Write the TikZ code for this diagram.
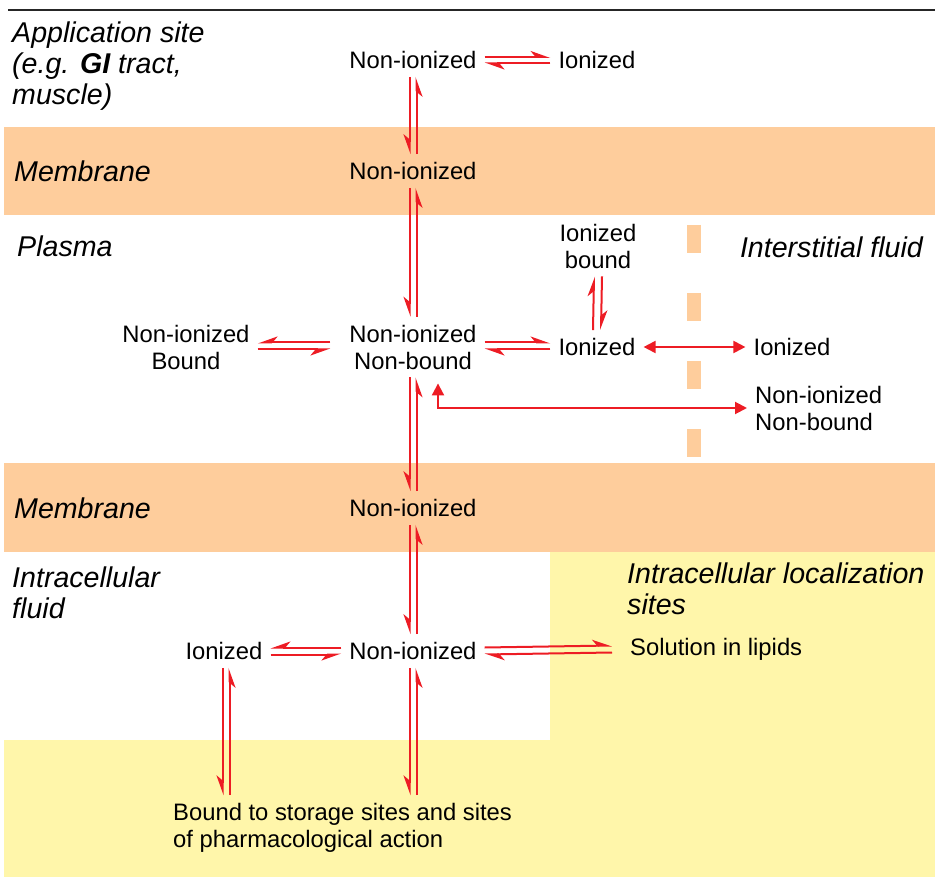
\documentclass[tikz,border=0pt]{standalone}
\usepackage{fontspec}
\setmainfont{Liberation Sans}
\usepackage{tikz}
\usetikzlibrary{calc,arrows.meta}
\usepackage{xcolor}
\definecolor{arrred}{RGB}{237,28,36}
\definecolor{membr}{RGB}{254,205,156}
\definecolor{lipid}{RGB}{255,246,170}

\begin{document}
\begin{tikzpicture}[x=1pt,y=-1pt,
		lbl/.style={font=\fontsize{23.8}{27}\selectfont, inner sep=8pt, align=center},
		region/.style={font=\fontsize{28.6}{31}\selectfont\itshape, inner sep=0pt, anchor=west, align=left},
		harpL/.style={draw=arrred, line width=2pt, -{Stealth[left,length=17pt,width=12pt,inset=5pt]}},
		harpR/.style={draw=arrred, line width=2pt, -{Stealth[right,length=17pt,width=12pt,inset=5pt]}},
		dblarr/.style={draw=arrred, line width=2pt, {Triangle[length=12pt,width=12pt]}-{Triangle[length=12pt,width=12pt]}}]
		\useasboundingbox (0,0) rectangle (935,877);

		% backgrounds
		\fill[membr] (4,127) rectangle (935,215);% first membrane
		\fill[membr] (4,463) rectangle (935,552);% second membrane
		\fill[lipid] (550,552) rectangle (935,877);
		\fill[lipid] (4,740) rectangle (550,877);
		\draw[line width=1.6pt, black!85] (8,10) -- (935,10);
		\draw[membr, line width=14pt, dash pattern=on 28pt off 40pt] (694,225) -- (694,460);% border to interstitial fluid

		% region labels
		\node[region] (appl)   at (12,66)  {Application site\\(e.g. \textbf{GI} tract,\\muscle)};
		\node[region] (memA)   at (14,171) {Membrane};
		\node[region] (plasma) at (17,246) {Plasma};
		\node[region, anchor=east] (inter) at (923,247) {Interstitial fluid};
		\node[region] (memB)   at (14,508) {Membrane};
		\node[region] (icf)    at (12,593) {Intracellular\\fluid};
		\node[region] (icloc)  at (627,589) {Intracellular localization\\sites};

		% species
		\node[lbl] (niA)  at (413,60)  {Non-ionized};
		\node[lbl] (ioA)  at (597,60)  {Ionized};
		\node[lbl] (niB)  at (413,171) {Non-ionized};
		\node[lbl] (iobd) at (598,246) {Ionized\\bound};
		\node[lbl] (nibd) at (186,347) {Non-ionized\\Bound};
		\node[lbl] (ninb) at (413,347) {Non-ionized\\Non-bound};
		\node[lbl] (ioB)  at (597,347) {Ionized};
		\node[lbl] (ioC)  at (792,347) {Ionized};
		\node[lbl, anchor=west, align=left] (ninbC) at (747,408) {Non-ionized\\Non-bound};
		\node[lbl] (niC)  at (413,508) {Non-ionized};
		\node[lbl] (ioD)  at (224,651) {Ionized};
		\node[lbl] (niD)  at (413,651) {Non-ionized};
		\node[lbl, anchor=west] (lip) at (622,649) {Solution in lipids};
		\node[lbl, anchor=west, align=left] (bound) at (165,828) {Bound to storage sites and sites\\of pharmacological action};

		\coordinate (bndA) at (niD.south |- bound.north);
		\coordinate (bndB) at (ioD.south |- bound.north);

		% equilibria, horizontal
		\draw[harpL] ([yshift=3pt]niA.east) -- ([yshift=3pt]ioA.west);
		\draw[harpL] ([yshift=-3.5pt]ioA.west) -- ([yshift=-3.5pt]niA.east);
		\draw[harpR] ([yshift=4.5pt,xshift=-11pt]ninb.west) -- ([yshift=4.5pt]nibd.east);
		\draw[harpR] ([yshift=-2.5pt]nibd.east) -- ([yshift=-2.5pt,xshift=-11pt]ninb.west);
		\draw[harpL] ([yshift=4.5pt]ninb.east) -- ([yshift=4.5pt]ioB.west);
		\draw[harpL] ([yshift=-2.5pt]ioB.west) -- ([yshift=-2.5pt]ninb.east);
		\draw[harpR] ([yshift=3.5pt]niD.west) -- ([yshift=3.5pt]ioD.east);
		\draw[harpR] ([yshift=-3.5pt]ioD.east) -- ([yshift=-3.5pt]niD.west);
		\draw[harpL] ([yshift=3.5pt]niD.east) -- ([yshift=3.5pt,xshift=-10pt]lip.west);
		\draw[harpL] ([yshift=-3.5pt,xshift=-10pt]lip.west) -- ([yshift=-3.5pt]niD.east);

		% equilibria, vertical
		\foreach \up/\dn in {niA/niB, niB/ninb, ninb/niC, niC/niD}{
			\draw[harpR] ([xshift=-3.5pt]\up.south) -- ([xshift=-3.5pt]\dn.north);
			\draw[harpR] ([xshift=3.5pt]\dn.north) -- ([xshift=3.5pt]\up.south);
		}
		\draw[harpR] ([xshift=-3.5pt]niD.south) -- ([xshift=-3.5pt]bndA);
		\draw[harpR] ([xshift=3.5pt]bndA) -- ([xshift=3.5pt]niD.south);
		\draw[harpR] ([xshift=-1.5pt]ioD.south) -- ([xshift=-1.5pt]bndB);
		\draw[harpR] ([xshift=5.5pt]bndB) -- ([xshift=5.5pt]ioD.south);
		\draw[harpL] ([xshift=-4pt]ioB.north) -- ([xshift=-4pt]iobd.south);
		\draw[harpL] ([xshift=4pt]iobd.south) -- ([xshift=4pt]ioB.north);

		% exchange with interstitial fluid
		\draw[dblarr] (ioB.east) -- (ioC.west);
		\draw[dblarr] ([xshift=25pt,yshift=-6pt]ninb.south) |- (ninbC.west);
	\end{tikzpicture}
\end{document}
